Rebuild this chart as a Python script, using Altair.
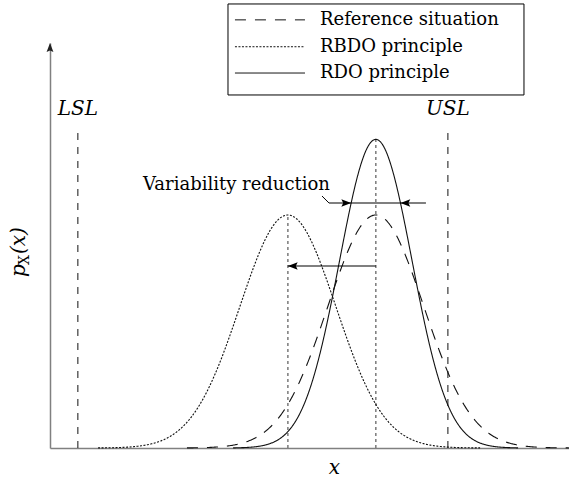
import altair as alt
import numpy as np
import pandas as pd

# ---- probability densities (x measured in units of the reference std. dev.) ----
series_names = ["Reference situation", "RBDO principle", "RDO principle"]
series_means = [6.78, 4.95, 6.78]
series_sigmas = [1.0, 1.0, 0.755]
series_x_from = [2.85, 1.0, 3.81]
series_x_to = [10.8, 8.95, 9.74]
series_dashes = [[11, 9], [2, 1.5], [1, 0]]

# ---- specification limits ----
limit_names = ["LSL", "USL"]
limit_values = [0.58, 8.28]
limit_line_top = 0.5445
limit_label_y = 0.5800

# ---- annotations ----
shift_arrow_y = 0.3116
reduction_y = 0.4195
reduction_line_x = [5.805, 7.823]
reduction_head_x = [6.267, 7.293]
leader_x = [5.66, 5.805]
leader_y = [0.4314, 0.4195]
reduction_text = "Variability reduction"
reduction_text_pos = [5.826, 0.4417]

# ---- legend box ----
legend_rows_y = [0.7330, 0.6870, 0.6420]
legend_box_x = [3.704, 9.863]
legend_box_y = [0.6044, 0.7602]
legend_sample_x = [3.849, 5.306]
legend_label_x = 5.618

x_domain = [0, 10.8]
y_domain = [0, 0.6934]

SERIF = "DejaVu Serif"
INK = "#111111"
AXIS_GREY = "#808080"

# arrow heads as custom symbol paths, tip at the anchor point
HEAD_LEFT = "M0,0 L1.6,-0.6 L1.3,0 L1.6,0.6 Z"
HEAD_RIGHT = "M0,0 L-1.6,-0.6 L-1.3,0 L-1.6,0.6 Z"
HEAD_UP = "M0,0 L-0.6,1.6 L0,1.3 L0.6,1.6 Z"


def normal_pdf(x, mu, sigma):
    return np.exp(-0.5 * ((x - mu) / sigma) ** 2) / (sigma * np.sqrt(2 * np.pi))


x_scale = alt.Scale(domain=x_domain, nice=False, zero=False)
y_scale = alt.Scale(domain=y_domain, nice=False, zero=False)

x_axis = alt.Axis(
    ticks=False, labels=False, grid=False,
    domainColor=AXIS_GREY, domainWidth=1.5,
    title="x", titleFont=SERIF, titleFontStyle="italic", titleFontWeight="normal",
    titleFontSize=20, titleColor="black",
    titleX=284, titleY=19, titleBaseline="middle", titleAlign="center",
)
y_axis = alt.Axis(
    ticks=False, labels=False, grid=False,
    domainColor=AXIS_GREY, domainWidth=1.5, title=None,
)


def X(field="x"):
    return alt.X(f"{field}:Q", scale=x_scale, axis=x_axis)


def Y(field="p"):
    return alt.Y(f"{field}:Q", scale=y_scale, axis=y_axis)


dash_scale = alt.Scale(domain=series_names, range=series_dashes)

# ---- density curves ----
frames = []
for name, mu, sd, a, b in zip(series_names, series_means, series_sigmas,
                              series_x_from, series_x_to):
    xs = np.linspace(a, b, 500)
    frames.append(pd.DataFrame({"x": xs, "p": normal_pdf(xs, mu, sd), "series": name}))
curves_df = pd.concat(frames, ignore_index=True)

curves = alt.Chart(curves_df).mark_line(color=INK, strokeWidth=1.1).encode(
    x=X(), y=Y(),
    strokeDash=alt.StrokeDash("series:N", scale=dash_scale, legend=None),
)

# ---- vertical lines at the means, up to the tallest peak at that mean ----
mean_rows = {}
for mu, sd in zip(series_means, series_sigmas):
    mean_rows[mu] = max(mean_rows.get(mu, 0), normal_pdf(mu, mu, sd))
means_df = pd.DataFrame({"x": list(mean_rows.keys()), "p": 0.0,
                         "p2": list(mean_rows.values())})
mean_lines = alt.Chart(means_df).mark_rule(
    color="#7a7a7a", strokeWidth=1.5, strokeDash=[3, 3]
).encode(x=X(), y=Y(), y2="p2:Q")

# ---- specification limits ----
limits_df = pd.DataFrame({"x": limit_values, "p": 0.0, "p2": limit_line_top,
                          "label": limit_names, "ly": limit_label_y})
limit_lines = alt.Chart(limits_df).mark_rule(
    color=INK, strokeWidth=1, strokeDash=[7, 7]
).encode(x=X(), y=Y(), y2="p2:Q")
limit_labels = alt.Chart(limits_df).mark_text(
    font=SERIF, fontStyle="italic", fontSize=20, color="black",
    align="center", baseline="middle",
).encode(x=X(), y=Y("ly"), text="label:N")

# ---- mean-shift arrow (reference -> RBDO) ----
shift_df = pd.DataFrame({"x": [series_means[0]], "x2": [series_means[1]],
                         "p": [shift_arrow_y]})
shift_line = alt.Chart(shift_df).mark_rule(color="black", strokeWidth=1.2).encode(
    x=X(), x2="x2:Q", y=Y())
shift_head = alt.Chart(pd.DataFrame({"x": [series_means[1]], "p": [shift_arrow_y]})).mark_point(
    shape=HEAD_LEFT, filled=True, color="black", size=150, opacity=1, strokeWidth=0
).encode(x=X(), y=Y())

# ---- variability reduction arrows ----
red_df = pd.DataFrame({"x": [reduction_line_x[0]], "x2": [reduction_line_x[1]],
                       "p": [reduction_y]})
red_line = alt.Chart(red_df).mark_rule(color="black", strokeWidth=1.2).encode(
    x=X(), x2="x2:Q", y=Y())
red_head_r = alt.Chart(pd.DataFrame({"x": [reduction_head_x[0]], "p": [reduction_y]})).mark_point(
    shape=HEAD_RIGHT, filled=True, color="black", size=150, opacity=1, strokeWidth=0
).encode(x=X(), y=Y())
red_head_l = alt.Chart(pd.DataFrame({"x": [reduction_head_x[1]], "p": [reduction_y]})).mark_point(
    shape=HEAD_LEFT, filled=True, color="black", size=150, opacity=1, strokeWidth=0
).encode(x=X(), y=Y())
leader = alt.Chart(pd.DataFrame({"x": leader_x, "p": leader_y})).mark_line(
    color="black", strokeWidth=1
).encode(x=X(), y=Y())
red_text = alt.Chart(pd.DataFrame({"x": [reduction_text_pos[0]], "p": [reduction_text_pos[1]],
                                   "t": [reduction_text]})).mark_text(
    font=SERIF, fontSize=18, color="black", align="right", baseline="alphabetic"
).encode(x=X(), y=Y(), text="t:N")

# ---- y-axis arrow head ----
y_arrow = alt.Chart(pd.DataFrame({"x": [x_domain[0]], "p": [y_domain[1]]})).mark_point(
    shape=HEAD_UP, filled=True, color="#222222", size=130, opacity=1, strokeWidth=0
).encode(x=X(), y=Y())

# ---- y-axis title p_X(x), rotated ----
one = pd.DataFrame({"k": [0]})
ylab_p = alt.Chart(one).mark_text(
    font=SERIF, fontStyle="italic", fontSize=20, angle=270, align="left",
    baseline="alphabetic", color="black", text="p"
).encode(x=alt.value(-25), y=alt.value(234))
ylab_sub = alt.Chart(one).mark_text(
    font=SERIF, fontSize=14, angle=270, align="left",
    baseline="alphabetic", color="black", text="X"
).encode(x=alt.value(-21), y=alt.value(222))
ylab_arg = alt.Chart(one).mark_text(
    font=SERIF, fontStyle="italic", fontSize=20, angle=270, align="left",
    baseline="alphabetic", color="black", text="(x)"
).encode(x=alt.value(-25), y=alt.value(211))

# ---- legend box ----
legend_df = pd.DataFrame({"series": series_names, "p": legend_rows_y,
                          "x": legend_sample_x[0], "x2": legend_sample_x[1],
                          "xt": legend_label_x})
box_df = pd.DataFrame({"x": [legend_box_x[0]], "x2": [legend_box_x[1]],
                       "p": [legend_box_y[0]], "p2": [legend_box_y[1]]})
legend_box = alt.Chart(box_df).mark_rect(
    fill="white", stroke="black", strokeWidth=1
).encode(x=X(), x2="x2:Q", y=Y(), y2="p2:Q")
legend_lines = alt.Chart(legend_df).mark_rule(color=INK, strokeWidth=1).encode(
    x=X(), x2="x2:Q", y=Y(),
    strokeDash=alt.StrokeDash("series:N", scale=dash_scale, legend=None),
)
legend_text = alt.Chart(legend_df).mark_text(
    font=SERIF, fontSize=18, color="black", align="left", baseline="middle"
).encode(x=X("xt"), y=Y(), text="series:N")

chart = alt.layer(
    mean_lines, limit_lines, curves, shift_line, shift_head,
    red_line, red_head_r, red_head_l, leader, red_text,
    limit_labels, y_arrow, ylab_p, ylab_sub, ylab_arg,
    legend_box, legend_lines, legend_text,
).properties(
    width=519, height=405,
    background="white",
    autosize=alt.AutoSizeParams(type="none"),
    padding={"left": 50, "top": 43, "right": 0, "bottom": 34},
).configure_view(stroke=None)

chart.save("out.html", embed_options={"renderer": "svg", "actions": False})
